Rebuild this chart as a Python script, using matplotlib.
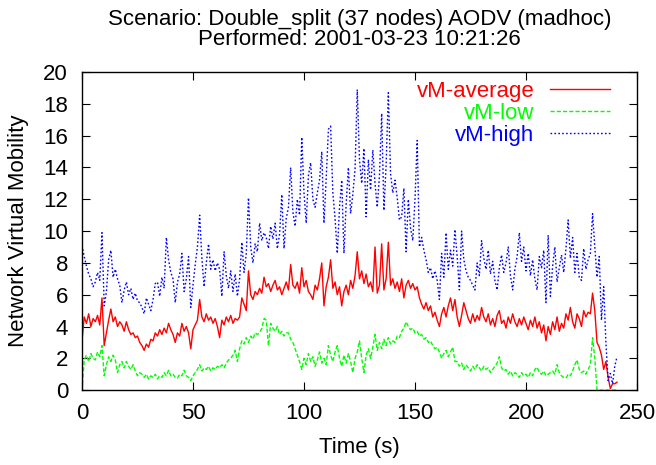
import numpy as np
import matplotlib
matplotlib.use("Agg")
import matplotlib.pyplot as plt

plt.rcParams['font.family'] = ['Liberation Sans', 'DejaVu Sans']

# tiempo en segundos, una muestra por segundo
tiempo = np.arange(0, 242)

vm_average = [
    3.1, 4.6, 4.2, 4.8, 4.0, 4.5, 4.3, 4.7, 4.1, 5.8,
    2.8, 3.6, 4.4, 5.1, 4.3, 4.6, 4.0, 4.3, 4.1, 3.7,
    4.3, 3.8, 3.5, 3.6, 3.3, 3.4, 3.0, 2.8, 2.5, 2.9,
    2.7, 3.2, 3.1, 3.6, 3.4, 3.8, 3.5, 3.9, 3.6, 4.2,
    3.8, 3.5, 3.0, 3.6, 3.4, 4.2, 3.7, 4.0, 3.6, 2.6,
    3.8, 4.1, 4.4, 5.7, 4.6, 4.3, 4.8, 4.4, 4.6, 4.2,
    4.5, 4.0, 3.3, 4.4, 4.1, 4.6, 4.3, 4.7, 4.2, 4.5,
    4.4, 4.6, 5.8, 5.4, 5.0, 7.5, 6.0, 5.7, 6.2, 6.0,
    6.4, 6.1, 7.1, 6.5, 6.7, 6.2, 6.6, 6.9, 6.3, 6.5,
    6.0, 6.4, 6.8, 6.3, 7.9, 6.6, 6.4, 6.8, 6.1, 7.7,
    6.5, 6.9, 6.2, 6.0, 5.7, 6.6, 6.3, 7.0, 8.0, 5.3,
    6.5, 7.1, 8.2, 6.4, 6.8, 6.0, 6.5, 5.3, 6.2, 6.6,
    6.0, 6.9, 6.4, 7.2, 8.7, 7.0, 7.5, 6.7, 7.3, 6.5,
    6.8, 6.2, 9.0, 6.1, 6.6, 9.2, 6.3, 7.0, 9.3, 6.6,
    7.0, 6.4, 6.8, 6.2, 7.0, 5.8, 6.6, 6.9, 6.4, 6.7,
    6.3, 6.5, 5.8, 5.4, 5.1, 5.5, 5.0, 5.3, 4.6, 4.9,
    4.4, 4.0, 4.8, 5.2, 4.6, 5.3, 5.8, 5.0, 5.7, 4.6,
    4.0, 4.7, 5.5, 5.0, 4.5, 4.2, 4.8, 4.3, 4.7, 4.4,
    5.2, 4.6, 4.3, 4.8, 4.1, 4.5, 4.0, 4.7, 5.0, 4.2,
    4.4, 3.9, 4.6, 4.2, 4.8, 4.3, 4.0, 4.5, 4.1, 4.6,
    4.2, 3.8, 4.4, 4.0, 4.6, 3.9, 4.3, 3.6, 4.1, 3.1,
    4.0, 3.5, 4.3, 3.8, 4.6, 3.7, 4.2, 3.9, 4.8, 4.4,
    5.2, 4.3, 3.9, 4.8, 4.5, 4.0, 5.0, 4.6, 4.9, 4.8,
    6.1, 5.0, 3.0, 2.7, 2.2, 1.3, 1.8, 0.8, 0.1, 0.4, 0.4, 0.5,
]

vm_low = [
    0.0, 1.9, 2.2, 1.8, 2.3, 2.0, 1.9, 2.4, 2.1, 2.8,
    0.9, 1.6, 2.1, 1.8, 2.2, 1.9, 1.1, 1.6, 1.8, 1.4,
    1.8, 1.5, 1.3, 1.6, 1.2, 0.9, 1.1, 1.0, 0.8, 1.0,
    0.7, 0.9, 0.8, 1.0, 0.7, 0.9, 0.8, 1.1, 0.9, 1.25,
    0.9, 1.0, 0.8, 0.75, 1.0, 0.9, 1.25, 0.9, 0.8, 0.6,
    0.9, 1.1, 1.3, 1.6, 1.2, 1.4, 1.3, 1.5, 1.2, 1.4,
    1.3, 1.5, 1.4, 1.6, 1.4, 1.7, 1.9, 2.0, 2.2, 2.5,
    1.8, 2.6, 3.1, 2.9, 3.3, 3.0, 3.4, 3.2, 3.6, 3.5,
    3.6, 3.9, 4.5, 4.4, 2.8, 4.2, 3.9, 3.7, 4.0, 3.5,
    3.7, 3.4, 3.6, 3.6, 3.2, 3.0, 2.6, 2.2, 1.8, 1.3,
    2.0, 1.6, 2.3, 1.8, 2.1, 1.5, 1.9, 2.4, 1.7, 2.0,
    1.6, 2.8, 2.2, 1.8, 2.4, 2.8, 2.0, 1.5, 2.2, 1.7,
    2.3, 1.8, 1.1, 2.0, 2.4, 3.1, 2.0, 1.1, 2.2, 2.6,
    2.0, 2.7, 3.5, 2.5, 3.0, 2.6, 3.2, 2.8, 3.3, 2.9,
    3.1, 3.0, 3.4, 3.3, 3.7, 3.9, 4.3, 4.0, 3.8, 3.9,
    3.6, 3.7, 3.4, 3.5, 3.2, 3.3, 3.0, 3.1, 2.8, 2.6,
    2.7, 2.4, 2.0, 2.3, 2.5, 2.1, 2.4, 2.7, 1.8, 1.8,
    1.5, 1.7, 1.3, 1.6, 1.4, 1.2, 1.5, 1.3, 1.6, 1.4,
    1.2, 1.5, 1.3, 1.4, 1.1, 1.3, 1.5, 1.7, 2.1, 1.4,
    1.2, 1.3, 1.0, 1.2, 0.9, 1.1, 1.0, 0.8, 1.1, 0.9,
    1.0, 0.8, 1.1, 0.9, 1.3, 1.45, 1.1, 1.0, 1.2, 0.9,
    1.0, 1.1, 1.2, 1.0, 1.6, 1.1, 0.9, 0.8, 0.75, 1.0,
    0.9, 1.2, 1.6, 1.9, 1.3, 1.1, 1.2, 1.0, 1.3, 1.6,
    3.3, 2.0, 0.0, 0.0, 0.0, 0.0, 0.0, 0.0, 0.0, 0.0, 0.0, 0.0,
]

vm_high = [
    9.1, 8.4, 7.8, 7.3, 7.0, 6.5, 6.8, 7.4, 6.9, 9.9,
    5.3, 6.2, 8.2, 8.8, 7.1, 7.6, 7.0, 6.6, 5.5, 6.3,
    6.8, 6.0, 6.4, 5.7, 6.1, 5.6, 5.5, 5.2, 4.8, 5.8,
    5.4, 5.0, 5.7, 6.7, 6.8, 5.9, 7.1, 6.4, 9.6, 8.2,
    7.4, 7.0, 5.5, 6.8, 7.3, 8.6, 6.2, 7.0, 8.4, 5.2,
    6.6, 7.9, 9.0, 11.0, 8.3, 6.5, 8.0, 9.2, 7.6, 8.2,
    7.5, 8.0, 7.6, 5.9, 8.7, 7.2, 6.4, 7.5, 6.2, 7.3,
    5.9, 7.0, 9.3, 7.4, 8.6, 12.1, 9.0, 8.0, 9.2, 8.7,
    10.5, 9.4, 9.9, 9.6, 8.9, 10.3, 9.5, 10.5, 8.9, 9.8,
    12.3, 8.9, 10.8, 11.5, 14.0, 11.2, 10.3, 12.0, 11.0, 15.9,
    12.4, 10.5, 13.5, 14.3, 12.0, 11.5, 12.4, 13.2, 15.0, 10.5,
    13.3, 16.4, 16.6, 12.4, 10.8, 8.6, 11.5, 13.2, 8.6, 11.7,
    14.0, 11.1, 12.3, 13.9, 18.9, 14.5, 13.0, 15.2, 10.9, 14.5,
    12.6, 15.1, 13.0, 11.5, 13.5, 17.4, 11.3, 14.2, 18.7, 13.6,
    12.4, 13.2, 12.1, 10.7, 10.9, 12.7, 8.7, 12.0, 10.2, 9.4,
    12.0, 15.7, 9.0, 9.6, 8.8, 8.2, 7.4, 7.7, 7.0, 7.5,
    6.9, 5.7, 8.6, 7.1, 9.9, 7.6, 8.8, 7.8, 10.1, 8.4,
    6.3, 10.0, 8.2, 7.5, 7.1, 6.9, 6.6, 6.3, 8.0, 7.2,
    9.4, 8.3, 7.6, 8.8, 7.3, 8.1, 6.9, 6.3, 7.7, 8.5,
    7.4, 8.0, 9.0, 7.2, 6.3, 7.6, 8.4, 9.9, 8.1, 9.0,
    7.5, 8.6, 7.2, 8.2, 7.0, 6.3, 8.4, 7.7, 8.8, 5.5,
    9.75, 5.9, 7.8, 9.0, 6.8, 7.7, 8.5, 7.4, 8.9, 10.7,
    8.3, 9.6, 7.4, 8.6, 7.1, 6.9, 8.9, 7.6, 8.2, 8.6,
    11.1, 9.0, 7.1, 8.4, 4.4, 6.5, 3.0, 0.6, 1.05, 0.4, 1.5, 2.1,
]

titulo = "Scenario: Double_split (37 nodes) AODV (madhoc)\nPerformed: 2001-03-23 10:21:26"
x_ticks = [0, 50, 100, 150, 200, 250]
y_ticks = list(range(0, 21, 2))

tam = 16

fig = plt.figure(figsize=(6.56, 4.65), dpi=100)
ax = fig.add_axes([0.125, 0.161, 0.846, 0.684])

ax.plot(tiempo, vm_average, color='#ff0000', lw=1.0, label='vM-average')
ax.plot(tiempo, vm_low, color='#00ff00', lw=1.0, linestyle=(0, (3, 1.5)), label='vM-low')
ax.plot(tiempo, vm_high, color='#0000ff', lw=1.0, linestyle=(0, (1.2, 1.6)), label='vM-high')

ax.set_xlim(0, 250)
ax.set_ylim(0, 20)
ax.set_xticks(x_ticks)
ax.set_yticks(y_ticks)
ax.tick_params(direction='in', length=6, width=0.8, top=True, right=True,
               labelsize=tam)
ax.tick_params(axis='x', pad=9)
ax.tick_params(axis='y', pad=10)
for lado in ax.spines.values():
    lado.set_linewidth(1.0)

ax.set_xlabel("Time (s)", fontsize=tam, labelpad=9.5)
ax.set_ylabel("Network Virtual Mobility", fontsize=tam, labelpad=10)
ax.set_title(titulo, fontsize=tam, linespacing=0.93, pad=19.5)

leg = ax.legend(loc='upper right', frameon=False, markerfirst=False,
                fontsize=tam, handlelength=2.7, handletextpad=0.7,
                labelspacing=0.05, borderpad=0, borderaxespad=0,
                labelcolor='linecolor', bbox_to_anchor=(0.951, 0.972))

fig.savefig("out.png", dpi=100)
